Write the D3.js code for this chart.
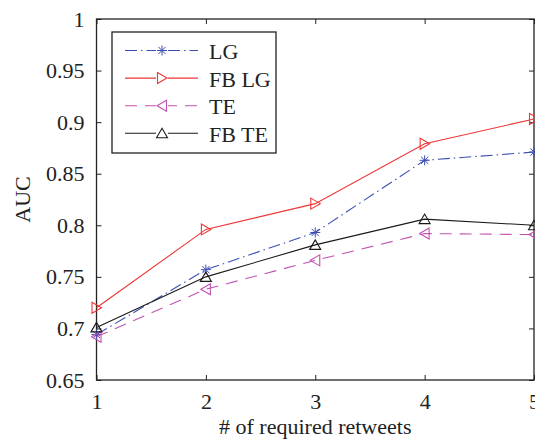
<!DOCTYPE html>
<html>
<head>
<meta charset="utf-8">
<script src="https://cdn.jsdelivr.net/npm/d3@7"></script>
<style>
  body { margin: 0; background: #fff; }
  svg { display: block; }
  text { font-family: "Liberation Serif", "Times New Roman", serif; fill: #222; }
</style>
</head>
<body>
<div id="chart"></div>
<script>
// data
var retweets = [1, 2, 3, 4, 5];
var lg   = [0.694, 0.757, 0.793, 0.863, 0.871];
var fbLg = [0.720, 0.796, 0.821, 0.879, 0.903];
var te   = [0.692, 0.738, 0.766, 0.792, 0.791];
var fbTe = [0.701, 0.750, 0.781, 0.806, 0.800];
var yTicks = [0.65, 0.7, 0.75, 0.8, 0.85, 0.9, 0.95, 1];
var seriesNames = ['LG', 'FB LG', 'TE', 'FB TE'];

var series = [
    {name: seriesNames[0], values: lg,   color: '#3b4fb3', dash: '12,4,1.5,4', marker: 'star'},
    {name: seriesNames[1], values: fbLg, color: '#ee3636', dash: null,         marker: 'right'},
    {name: seriesNames[2], values: te,   color: '#c252b2', dash: '12,8',       marker: 'left'},
    {name: seriesNames[3], values: fbTe, color: '#1a1a1a', dash: null,         marker: 'up'}
];

var margin = {top: 19, right: 1, bottom: 59, left: 96.5},
    width = 535 - margin.left - margin.right,
    height = 439 - margin.top - margin.bottom;

var x = d3.scaleLinear().domain([1, 5]).range([0, width]);
var y = d3.scaleLinear().domain([0.65, 1]).range([height, 0]);

var svg = d3.select('#chart').append('svg')
    .attr('width', 535)
    .attr('height', 439)
    .append('g')
    .attr('transform', 'translate(' + margin.left + ',' + margin.top + ')');

// axes, ticks pointing inward on all four sides
var fmtY = function(d) { return d3.format('')(+d.toFixed(2)); };

var xAxis = svg.append('g')
    .attr('transform', 'translate(0,' + height + ')')
    .call(d3.axisBottom(x).tickValues(retweets).tickFormat(d3.format('d'))
        .tickSizeInner(-5).tickSizeOuter(0).tickPadding(13));

var yAxis = svg.append('g')
    .call(d3.axisLeft(y).tickValues(yTicks).tickFormat(fmtY)
        .tickSizeInner(-5).tickSizeOuter(0).tickPadding(12));

svg.append('g')
    .call(d3.axisTop(x).tickValues(retweets).tickFormat('')
        .tickSizeInner(-5).tickSizeOuter(0));

svg.append('g')
    .attr('transform', 'translate(' + width + ',0)')
    .call(d3.axisRight(y).tickValues(yTicks).tickFormat('')
        .tickSizeInner(-5).tickSizeOuter(0));

svg.selectAll('.domain').remove();
svg.selectAll('.tick line').attr('stroke', '#222').attr('stroke-width', 1);
svg.selectAll('.tick text')
    .attr('font-size', '22px')
    .attr('font-family', '"Liberation Serif", serif')
    .attr('fill', '#222');

svg.append('rect')
    .attr('width', width)
    .attr('height', height)
    .attr('fill', 'none')
    .attr('stroke', '#222')
    .attr('stroke-width', 1.3);

// marker shapes
function drawMarker(g, type, color) {
    if (type === 'star') {
        var r = 5;
        [[-r, 0, r, 0], [0, -r, 0, r], [-3.6, -3.6, 3.6, 3.6], [-3.6, 3.6, 3.6, -3.6]].forEach(function(s) {
            g.append('line')
                .attr('x1', s[0]).attr('y1', s[1]).attr('x2', s[2]).attr('y2', s[3])
                .attr('stroke', color).attr('stroke-width', 1);
        });
        return;
    }
    var pts;
    if (type === 'right') pts = [[-4.5, -5.5], [5, 0], [-4.5, 5.5]];
    if (type === 'left')  pts = [[4.5, -5.5], [-5, 0], [4.5, 5.5]];
    if (type === 'up')    pts = [[-5.5, 4.5], [0, -5], [5.5, 4.5]];
    g.append('path')
        .attr('d', 'M' + pts.join('L') + 'Z')
        .attr('fill', 'none')
        .attr('stroke', color)
        .attr('stroke-width', 1.1);
}

var line = d3.line()
    .x(function(d, i) { return x(retweets[i]); })
    .y(function(d) { return y(d); });

series.forEach(function(s) {
    svg.append('path')
        .attr('d', line(s.values))
        .attr('fill', 'none')
        .attr('stroke', s.color)
        .attr('stroke-width', 1.1)
        .attr('stroke-dasharray', s.dash);

    s.values.forEach(function(v, i) {
        var m = svg.append('g')
            .attr('transform', 'translate(' + x(retweets[i]) + ',' + y(v) + ')');
        drawMarker(m, s.marker, s.color);
    });
});

// legend
var legend = svg.append('g')
    .attr('transform', 'translate(' + (112 - margin.left) + ',' + (32 - margin.top) + ')');

legend.append('rect')
    .attr('width', 164)
    .attr('height', 121)
    .attr('fill', '#fff')
    .attr('stroke', '#222')
    .attr('stroke-width', 1.3);

series.forEach(function(s, i) {
    var row = legend.append('g')
        .attr('transform', 'translate(0,' + (18.5 + i * 27.6) + ')');
    row.append('line')
        .attr('x1', 13).attr('x2', 86)
        .attr('stroke', s.color)
        .attr('stroke-width', 1.1)
        .attr('stroke-dasharray', s.dash);
    var m = row.append('g').attr('transform', 'translate(50,0)');
    m.append('rect').attr('x', -6).attr('y', -6).attr('width', 12).attr('height', 12)
        .attr('fill', '#fff');
    drawMarker(m, s.marker, s.color);
    row.append('text')
        .attr('x', 97)
        .attr('y', 8.5)
        .attr('font-size', '22px')
        .text(s.name);
});

// axis titles
svg.append('text')
    .attr('x', width / 2)
    .attr('y', height + 54)
    .attr('font-size', '22px')
    .attr('text-anchor', 'middle')
    .text('# of required retweets');

svg.append('text')
    .attr('transform', 'rotate(-90)')
    .attr('x', -height / 2)
    .attr('y', -67)
    .attr('font-size', '22px')
    .attr('text-anchor', 'middle')
    .text('AUC');
</script>
</body>
</html>
